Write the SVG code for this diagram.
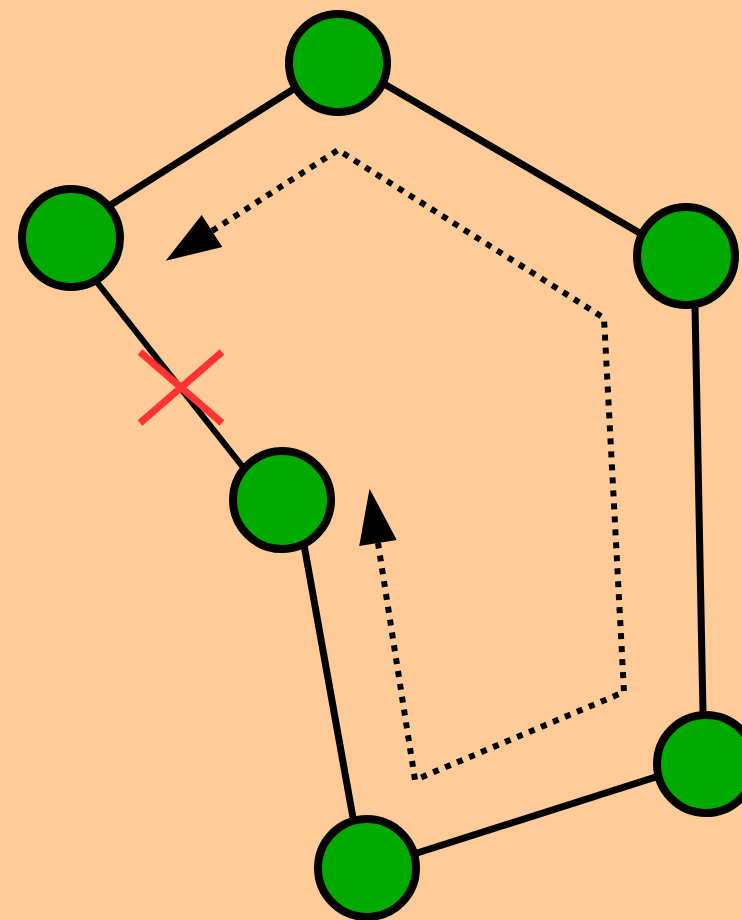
<svg xmlns="http://www.w3.org/2000/svg" width="742" height="920" viewBox="0 0 742 920">
<style>
.edge{stroke:#000;stroke-width:7;fill:none}
.node{fill:#00aa00;stroke:#000;stroke-width:8}
.path{stroke:#000;stroke-width:6;fill:none;stroke-dasharray:6 7}
.cross{stroke:#ff3333;stroke-width:7}
</style>
<defs>
<marker id="ah" markerUnits="userSpaceOnUse" markerWidth="60" markerHeight="40" refX="0" refY="20" orient="auto-start-reverse" viewBox="0 0 60 40" overflow="visible">
<path d="M0,1 L55,20 L0,39 z" fill="#000"/>
</marker>
</defs>
<rect width="742" height="920" fill="#ffcc99"/>
<g id="connectors">
<line class="edge" x1="338" y1="61" x2="71" y2="230"/>
<line class="edge" x1="338" y1="57" x2="686" y2="260"/>
<line class="edge" x1="62" y1="238" x2="269" y2="500" style="stroke-width:6"/>
<line class="edge" x1="694" y1="256" x2="704" y2="764"/>
<line class="edge" x1="296" y1="500" x2="362" y2="868"/>
<line class="edge" x1="367" y1="869" x2="706" y2="761"/>
<path class="path" d="M212,231 L338,150 L604,318 L624,692 L415,780 L378,543" marker-start="url(#ah)" marker-end="url(#ah)"/>
</g>
<g id="cut">
<line class="cross" x1="140" y1="352" x2="222" y2="423"/>
<line class="cross" x1="140" y1="423" x2="222" y2="352"/>
</g>
<g id="n-top"><circle class="node" cx="338" cy="63" r="49"/></g>
<g id="n-left"><circle class="node" cx="71" cy="238" r="49"/></g>
<g id="n-right"><circle class="node" cx="686" cy="256" r="49"/></g>
<g id="n-mid"><circle class="node" cx="282" cy="500" r="49"/></g>
<g id="n-bottomright"><circle class="node" cx="706" cy="764" r="49"/></g>
<g id="n-bottom"><circle class="node" cx="367" cy="868" r="49"/></g>
</svg>
